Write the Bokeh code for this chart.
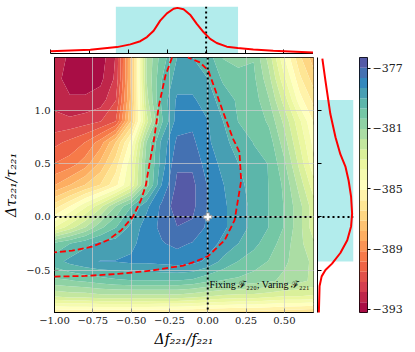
import numpy as np
from bokeh.plotting import figure
from bokeh.layouts import column, row
from bokeh.models import Range1d, FixedTicker, BoxAnnotation, Span, Label
from bokeh.embed import file_html
from bokeh.resources import INLINE

# ---------------- data ----------------
F_GRID = [-1.0, -0.9, -0.8, -0.7, -0.6, -0.5, -0.4, -0.3, -0.2, -0.1,
          0.0, 0.1, 0.2, 0.3, 0.4, 0.5, 0.6, 0.7]
TAU_GRID = [-0.9, -0.75, -0.6, -0.42, -0.25, -0.1, 0.1, 0.3, 0.5, 0.7,
            0.9, 1.1, 1.3, 1.5]
# log10 likelihood, one row per TAU_GRID value, one column per F_GRID value
LOGL_GRID = [
    [-385.7, -385.7, -385.7, -385.7, -385.7, -385.7, -385.7, -385.8, -385.8, -385.8, -386.0, -386.0, -386.1, -386.1, -386.2, -386.3, -386.4, -386.5],
    [-382.4, -382.2, -382.2, -382.0, -382.0, -382.0, -382.0, -382.0, -382.0, -382.2, -382.4, -382.6, -382.7, -382.7, -382.9, -383.1, -383.1, -383.2],
    [-380.5, -380.4, -380.2, -380.0, -379.8, -379.7, -379.7, -379.7, -379.7, -379.8, -380.2, -380.4, -380.5, -380.7, -380.9, -381.2, -381.5, -381.9],
    [-379.3, -378.8, -378.5, -378.3, -378.3, -378.2, -378.2, -378.1, -378.0, -378.1, -378.5, -379.2, -379.7, -380.0, -380.4, -380.9, -381.4, -381.9],
    [-380.2, -379.7, -379.2, -378.8, -378.7, -378.5, -378.0, -377.7, -377.5, -377.7, -378.0, -378.5, -379.0, -379.5, -380.0, -380.7, -381.5, -382.4],
    [-383.7, -382.7, -381.7, -380.5, -379.7, -378.8, -378.0, -377.5, -377.0, -377.1, -377.8, -378.2, -378.7, -379.2, -379.7, -380.4, -381.5, -382.9],
    [-386.1, -385.1, -383.9, -382.6, -381.0, -379.7, -378.5, -377.5, -376.6, -376.8, -377.7, -378.2, -378.7, -379.2, -379.7, -380.4, -381.5, -382.9],
    [-388.5, -387.8, -387.1, -386.4, -385.3, -383.6, -380.7, -378.3, -376.8, -376.8, -377.7, -378.3, -378.8, -379.3, -379.7, -380.5, -382.0, -383.6],
    [-389.8, -389.5, -388.8, -387.6, -386.1, -383.9, -380.7, -378.7, -377.1, -377.1, -378.0, -378.5, -379.0, -379.5, -379.7, -380.9, -382.6, -384.4],
    [-390.7, -390.3, -389.8, -388.8, -387.1, -384.8, -381.0, -378.8, -377.5, -377.5, -378.2, -378.8, -379.3, -379.7, -380.0, -381.4, -383.1, -384.8],
    [-391.7, -391.7, -391.5, -391.2, -390.5, -387.1, -382.7, -379.8, -378.0, -377.8, -378.3, -379.0, -379.7, -379.8, -380.5, -381.9, -383.6, -385.3],
    [-392.0, -392.4, -392.4, -392.2, -391.2, -387.5, -382.0, -379.5, -378.2, -378.2, -378.7, -379.3, -379.8, -380.0, -381.0, -382.7, -384.8, -386.1],
    [-392.2, -392.9, -392.9, -392.7, -391.7, -387.6, -381.7, -379.7, -378.7, -378.7, -379.0, -379.8, -380.2, -380.2, -381.5, -383.6, -385.6, -386.9],
    [-392.0, -392.7, -392.9, -392.9, -391.8, -387.6, -381.7, -380.0, -379.0, -379.0, -379.3, -380.4, -380.5, -380.4, -382.0, -384.4, -386.3, -387.6],
]
LOGL_MIN, LOGL_MAX, N_BANDS = -393.2, -376.3, 25

# credible-region boundary (red dashed), two branches clipped by the frame
REGION_A_F = [-0.233, -0.276, -0.319, -0.35, -0.382, -0.404, -0.436, -0.489, -0.564, -0.65, -0.756, -0.885, -1.0]
REGION_A_TAU = [1.5, 1.33, 1.047, 0.735, 0.485, 0.297, 0.157, 0.0, -0.125, -0.218, -0.281, -0.318, -0.334]
REGION_B_F = [-1.0, -0.8, -0.585, -0.372, -0.16, -0.08, 0.004, 0.111, 0.175, 0.197, 0.218, 0.207, 0.165, 0.101, 0.047, 0.004, -0.05, -0.13]
REGION_B_TAU = [-0.562, -0.556, -0.537, -0.506, -0.458, -0.42, -0.368, -0.218, -0.031, 0.157, 0.34, 0.61, 0.735, 0.984, 1.203, 1.375, 1.453, 1.5]

# marginal posteriors (relative density)
TOP_F = [-1.0, -0.744, -0.573, -0.487, -0.423, -0.38, -0.337, -0.295, -0.252, -0.209, -0.184,
         -0.145, -0.103, -0.06, -0.017, 0.026, 0.068, 0.133, 0.203, 0.303, 0.431, 0.688]
TOP_DENS = [0.05, 0.08, 0.14, 0.20, 0.27, 0.36, 0.50, 0.72, 0.88, 0.98, 1.0,
            0.97, 0.85, 0.65, 0.47, 0.32, 0.23, 0.15, 0.12, 0.09, 0.06, 0.02]
RIGHT_TAU = [1.49, 1.28, 0.97, 0.75, 0.59, 0.47, 0.34, 0.19, 0.03, -0.09, -0.22, -0.34, -0.44, -0.50, -0.56, -0.65, -0.90]
RIGHT_DENS = [0.14, 0.23, 0.37, 0.52, 0.66, 0.81, 0.90, 0.97, 1.0, 0.97, 0.86, 0.66, 0.42, 0.23, 0.12, 0.06, 0.04]
F_INTERVAL = (-0.58, 0.205)
TAU_INTERVAL = (-0.42, 1.10)
TRUE_F, TRUE_TAU = [0.0], [0.0]

X_TICKS = [-1.0, -0.75, -0.5, -0.25, 0.0, 0.25, 0.5]
X_TICK_LABELS = ["\u22121.00", "\u22120.75", "\u22120.50", "\u22120.25", "0.00", "0.25", "0.50"]
Y_TICKS = [-0.5, 0.0, 0.5, 1.0]
Y_TICK_LABELS = ["\u22120.5", "0.0", "0.5", "1.0"]
CB_TICKS = [-393, -389, -385, -381, -377]

X_RANGE = (-1.0, 0.69)
Y_RANGE = (-0.9, 1.5)

# ---------------- style ----------------
SPECTRAL = ["#9e0142", "#d53e4f", "#f46d43", "#fdae61", "#fee08b", "#ffffbf",
            "#e6f598", "#abdda4", "#66c2a5", "#3288bd", "#5e4fa2"]


def spectral(t):
    anchors = np.array([[int(c[i:i + 2], 16) for i in (1, 3, 5)] for c in SPECTRAL], float)
    pos = t * (len(SPECTRAL) - 1)
    i = min(int(pos), len(SPECTRAL) - 2)
    f = pos - i
    rgb = anchors[i] * (1 - f) + anchors[i + 1] * f
    return "#%02x%02x%02x" % tuple(int(round(v)) for v in rgb)


levels = np.linspace(LOGL_MIN, LOGL_MAX, N_BANDS + 1)
palette = [spectral((i + 0.5) / N_BANDS) for i in range(N_BANDS)]

SERIF = "DejaVu Serif"
CYAN = "#00bfbf"
RED = "#ff0000"
L_BORDER = 50
FRAME_W = 263
TOP_H = 55          # 6 px above, 47 px frame, 2 px below
MAIN_H = 294        # 2 px above, 256 px frame, 36 px below
B_TOP, B_BOTTOM = 2, 36

xr = Range1d(*X_RANGE)
yr = Range1d(*Y_RANGE)


def dotted_span(loc, dim):
    return Span(location=loc, dimension=dim, line_color="black", line_width=2,
                line_dash="2 3")


def hide_labels(ax):
    ax.major_label_text_font_size = "1px"
    ax.major_label_text_color = None
    ax.major_label_standoff = 0
    ax.major_tick_in = 4
    ax.major_tick_out = 0
    ax.minor_tick_in = 0
    ax.minor_tick_out = 0
    ax.axis_line_color = "black"


# ---------------- main panel ----------------
main = figure(width=L_BORDER + FRAME_W + 2, height=MAIN_H, x_range=xr, y_range=yr,
              output_backend="svg", toolbar_location=None,
              min_border_left=L_BORDER, min_border_right=2,
              min_border_top=B_TOP, min_border_bottom=B_BOTTOM)
main.contour(x=np.array(F_GRID), y=np.array(TAU_GRID), z=np.array(LOGL_GRID),
             levels=levels, fill_color=palette)

main.xaxis.ticker = FixedTicker(ticks=X_TICKS)
main.xaxis.major_label_overrides = dict(zip(X_TICKS, X_TICK_LABELS))
main.yaxis.ticker = FixedTicker(ticks=Y_TICKS)
main.yaxis.major_label_overrides = dict(zip(Y_TICKS, Y_TICK_LABELS))
main.xaxis.axis_label = "\u0394f\u2082\u2082\u2081/f\u2082\u2082\u2081"
main.yaxis.axis_label = "\u0394\u03c4\u2082\u2082\u2081/\u03c4\u2082\u2082\u2081"
for ax in (main.xaxis, main.yaxis):
    ax.major_tick_in = 4
    ax.major_tick_out = 0
    ax.minor_tick_in = 0
    ax.minor_tick_out = 0
    ax.axis_line_color = "black"
    ax.major_tick_line_color = "black"
    ax.major_label_text_font = SERIF
    ax.major_label_text_font_size = "10px"
    ax.major_label_text_color = "#222222"
    ax.major_label_standoff = 4
    ax.axis_label_text_font = SERIF
    ax.axis_label_text_font_size = "14px"
    ax.axis_label_text_font_style = "italic"
    ax.axis_label_text_color = "black"
    ax.axis_label_standoff = 4
main.outline_line_color = "black"
main.outline_line_width = 1
main.outline_line_alpha = 1
main.grid.grid_line_color = "#cfcfcf"
main.grid.grid_line_alpha = 0.7
main.grid.level = "guide"

for fx, ty in ((REGION_A_F, REGION_A_TAU), (REGION_B_F, REGION_B_TAU)):
    r = main.line(fx, ty, line_color=RED, line_width=1.8, line_dash="6 3")
    r.level = "annotation"
main.add_layout(dotted_span(0.0, "height"))
main.add_layout(dotted_span(0.0, "width"))
m = main.scatter(TRUE_F, TRUE_TAU, marker="plus", size=8, fill_color="white",
                 line_color="#9a9a9a", line_width=1)
m.level = "overlay"
main.add_layout(Label(x=0.012, y=-0.64, text="Fixing \u2131\u2082\u2082\u2080; Varing \u2131\u2082\u2082\u2081",
                      text_font="Liberation Serif", text_font_size="10px",
                      text_baseline="middle", text_color="black"))

# ---------------- top marginal ----------------
top = figure(width=L_BORDER + FRAME_W, height=TOP_H, x_range=xr, y_range=Range1d(0, 1.03),
             output_backend="svg", toolbar_location=None,
             min_border_left=L_BORDER, min_border_right=0,
             min_border_top=6, min_border_bottom=2)
top.yaxis.visible = False
top.grid.visible = False
top.outline_line_color = None
top.xaxis.ticker = FixedTicker(ticks=X_TICKS)
hide_labels(top.xaxis)
top.add_layout(BoxAnnotation(left=F_INTERVAL[0], right=F_INTERVAL[1], fill_color=CYAN,
                             fill_alpha=0.3, line_color=None, level="underlay"))
tl = top.line(TOP_F, TOP_DENS, line_color=RED, line_width=2)
tl.level = "overlay"
top.add_layout(dotted_span(0.0, "height"))

# ---------------- right marginal ----------------
right = figure(width=42, height=MAIN_H, x_range=Range1d(0, 1.04), y_range=yr,
               output_backend="svg", toolbar_location=None,
               min_border_left=2, min_border_right=4,
               min_border_top=B_TOP, min_border_bottom=B_BOTTOM)
right.xaxis.visible = False
right.grid.visible = False
right.outline_line_color = None
right.yaxis.ticker = FixedTicker(ticks=Y_TICKS)
hide_labels(right.yaxis)
right.add_layout(BoxAnnotation(bottom=TAU_INTERVAL[0], top=TAU_INTERVAL[1], fill_color=CYAN,
                               fill_alpha=0.3, line_color=None, level="underlay"))
rl = right.line(RIGHT_DENS, RIGHT_TAU, line_color=RED, line_width=2)
rl.level = "overlay"
right.add_layout(dotted_span(0.0, "width"))

# ---------------- colour bar ----------------
cb = figure(width=58, height=MAIN_H, x_range=Range1d(0, 1), y_range=Range1d(LOGL_MIN, LOGL_MAX),
            output_backend="svg", toolbar_location=None, y_axis_location="right",
            min_border_left=2, min_border_right=48,
            min_border_top=B_TOP, min_border_bottom=B_BOTTOM)
cb.quad(left=0, right=1, bottom=levels[:-1], top=levels[1:], fill_color=palette, line_color=None)
cb.xaxis.visible = False
cb.grid.visible = False
cb.outline_line_color = "black"
cb.outline_line_width = 1
cb.yaxis.ticker = FixedTicker(ticks=CB_TICKS)
cb.yaxis.major_tick_in = 0
cb.yaxis.major_tick_out = 3
cb.yaxis.minor_tick_in = 0
cb.yaxis.minor_tick_out = 0
cb.yaxis.axis_line_color = None
cb.yaxis.major_label_text_font = SERIF
cb.yaxis.major_label_text_font_size = "11px"
cb.yaxis.major_label_text_color = "#222222"
cb.yaxis.major_label_standoff = 2
cb.add_layout(Label(x=5.4, y=(LOGL_MIN + LOGL_MAX) / 2, angle=90, angle_units="deg",
                    text="log\u2081\u2080 likelihood", text_font=SERIF, text_font_size="13px",
                    text_align="center", text_baseline="middle", text_color="black"))

layout = column(top, row(main, right, cb))
open("out.html", "w").write(file_html(layout, INLINE))
